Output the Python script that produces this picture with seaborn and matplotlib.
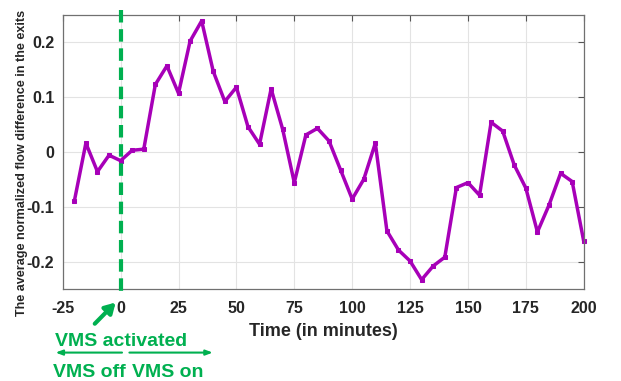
import numpy as np
import pandas as pd
import matplotlib
matplotlib.use("Agg")
import matplotlib.pyplot as plt
import seaborn as sns

minutes = list(range(-20, 201, 5))
flow_diff = [-0.090, 0.016, -0.036, -0.006, -0.016, 0.003, 0.005, 0.123, 0.157, 0.107,
             0.202, 0.239, 0.147, 0.092, 0.118, 0.046, 0.014, 0.115, 0.041, -0.056,
             0.031, 0.043, 0.020, -0.033, -0.086, -0.050, 0.016, -0.144, -0.179, -0.199,
             -0.233, -0.208, -0.192, -0.065, -0.056, -0.079, 0.054, 0.038, -0.024, -0.066,
             -0.146, -0.097, -0.039, -0.054, -0.163]
x_ticks = [-25, 0, 25, 50, 75, 100, 125, 150, 175, 200]
y_ticks = [-0.2, -0.1, 0, 0.1, 0.2]
y_tick_labels = ["-0.2", "-0.1", "0", "0.1", "0.2"]

purple = "#A700B8"
green = "#00B050"


def main():
    data = pd.DataFrame({"minute": minutes, "diff": flow_diff})

    sns.set_style("whitegrid")
    plt.rcParams["font.family"] = ["Liberation Sans", "DejaVu Sans"]
    plt.rcParams["font.weight"] = "bold"
    plt.rcParams["axes.unicode_minus"] = False

    fig = plt.figure(figsize=(6.21, 3.81), dpi=100)
    ax = fig.add_axes([0.101, 0.2415, 0.839, 0.7195])

    sns.lineplot(data=data, x="minute", y="diff", ax=ax, color=purple, linewidth=2.5,
                 marker="s", markersize=3.5, markeredgecolor=purple, clip_on=False)

    ax.set_xlim(-25, 200)
    ax.set_ylim(-0.25, 0.25)
    ax.set_xticks(x_ticks)
    ax.set_yticks(y_ticks)
    ax.set_yticklabels(y_tick_labels)
    ax.tick_params(axis="both", direction="in", length=4, width=0.8, color="#555555",
                   labelsize=11.5, top=True, right=True)
    ax.tick_params(axis="x", pad=9)
    ax.tick_params(axis="y", pad=6)
    for lab in ax.get_xticklabels() + ax.get_yticklabels():
        lab.set_fontweight("bold")
    ax.grid(True, color="#e3e3e3", linewidth=0.8)
    for s in ax.spines.values():
        s.set_color("#707070")
        s.set_linewidth(0.9)

    ax.set_xlabel("Time (in minutes)", fontsize=13, fontweight="bold", labelpad=5)
    ax.set_ylabel("The average normalized flow difference in the exits", fontsize=9.1,
                  fontweight="bold")
    ax.yaxis.set_label_coords(-0.066, 0.46)

    # VMS activation line
    ax.plot([0, 0], [0.259, -0.262], color=green, linewidth=3, linestyle=(0, (3, 1.6)),
            clip_on=False, zorder=5)

    ax.annotate("", xy=(-1.3, -0.271), xytext=(-12, -0.317),
                arrowprops=dict(arrowstyle="-|>,head_width=0.35,head_length=0.6",
                                color=green, lw=3), annotation_clip=False)
    ax.text(0.3, -0.345, "VMS activated", color=green, fontsize=14, fontweight="bold",
            ha="center", va="center", clip_on=False)
    ax.annotate("", xy=(-29.3, -0.366), xytext=(1.8, -0.366),
                arrowprops=dict(arrowstyle="-|>,head_width=0.15,head_length=0.4",
                                color=green, lw=1.5), annotation_clip=False)
    ax.annotate("", xy=(41, -0.366), xytext=(2.6, -0.366),
                arrowprops=dict(arrowstyle="-|>,head_width=0.15,head_length=0.4",
                                color=green, lw=1.5), annotation_clip=False)
    ax.text(-13.3, -0.403, "VMS off", color=green, fontsize=14, fontweight="bold",
            ha="center", va="center", clip_on=False)
    ax.text(20.5, -0.403, "VMS on", color=green, fontsize=14, fontweight="bold",
            ha="center", va="center", clip_on=False)

    fig.savefig("out.png", dpi=100)


if __name__ == "__main__":
    main()
